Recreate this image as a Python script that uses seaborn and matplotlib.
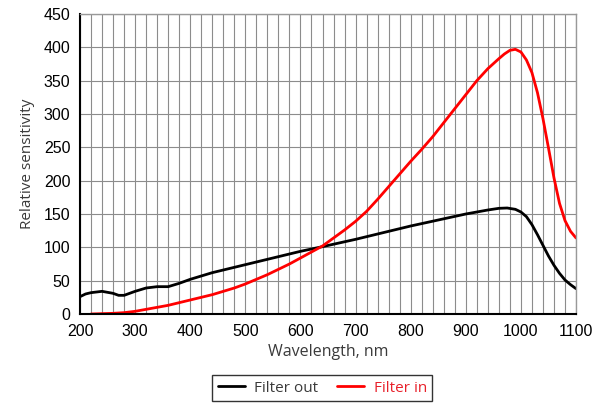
import numpy as np
import pandas as pd
import matplotlib
matplotlib.use("Agg")
import matplotlib.pyplot as plt
import seaborn as sns
from matplotlib.ticker import MultipleLocator

# Filter out (black curve)
wl_out = [200, 210, 220, 240, 260, 270, 280, 300, 320, 340, 360, 380, 400, 420,
          440, 460, 480, 500, 520, 540, 560, 580, 600, 640, 700, 750, 800, 850,
          900, 940, 960, 975, 990, 1000, 1010, 1020, 1030, 1040, 1050, 1060,
          1070, 1080, 1090, 1100]
sens_out = [26, 30, 32, 34, 31, 28, 28, 34, 39, 41, 41, 46, 52, 57,
            62, 66, 70, 74, 78, 82, 86, 90, 94, 101, 112, 122, 132, 141,
            150, 156, 158.5, 159, 157, 153, 146, 134, 119, 103, 87, 73,
            61, 51, 44, 38]

# Filter in (red curve)
wl_in = [220, 240, 260, 280, 300, 320, 340, 360, 380, 400, 420, 440, 460, 480,
         500, 520, 540, 560, 580, 600, 620, 640, 660, 680, 700, 720, 740, 760,
         780, 800, 820, 840, 860, 880, 900, 920, 940, 960, 970, 980, 990, 1000,
         1010, 1020, 1030, 1040, 1050, 1060, 1070, 1080, 1090, 1100]
sens_in = [0, 0.5, 1, 2, 4, 7, 10, 13, 17, 21, 25, 29, 34, 39,
           45, 52, 59, 67, 75, 84, 93, 102, 114, 126, 139, 154, 172, 191,
           210, 229, 247, 266, 287, 308, 329, 350, 368, 383, 390, 395.5, 397,
           393, 381, 362, 332, 293, 249, 204, 166, 140, 124, 114]

df_out = pd.DataFrame({"wl": wl_out, "sens": sens_out})
df_in = pd.DataFrame({"wl": wl_in, "sens": sens_in})

sns.set_style("white")
plt.rcParams["font.family"] = ["Liberation Sans", "DejaVu Sans"]

fig = plt.figure(figsize=(6.07, 4.08), dpi=100)
ax = fig.add_axes([0.1318, 0.2304, 0.8172, 0.7353])

sns.lineplot(data=df_out, x="wl", y="sens", color="black", linewidth=2.0,
             label="Filter out", ax=ax)
sns.lineplot(data=df_in, x="wl", y="sens", color="#ff0000", linewidth=2.0,
             label="Filter in", ax=ax)

ax.set_xlim(200, 1100)
ax.set_ylim(0, 450)
ax.xaxis.set_major_locator(MultipleLocator(100))
ax.xaxis.set_minor_locator(MultipleLocator(20))
ax.yaxis.set_major_locator(MultipleLocator(50))
ax.grid(which="both", axis="x", color="#8c8c8c", linewidth=0.8)
ax.grid(which="major", axis="y", color="#8c8c8c", linewidth=0.8)
ax.set_axisbelow(True)

for s in ["top", "right"]:
    ax.spines[s].set_color("#999999")
    ax.spines[s].set_linewidth(1.0)
for s in ["left", "bottom"]:
    ax.spines[s].set_color("black")
    ax.spines[s].set_linewidth(1.5)

ax.tick_params(axis="both", which="major", direction="out", length=4, width=1,
               color="black", labelsize=11.5, labelcolor="black", pad=3)
ax.tick_params(axis="x", which="minor", length=0)

ax.set_xlabel("Wavelength, nm", fontsize=11.5, color="#3a3a3a",
              family=["Open Sans", "DejaVu Sans"], labelpad=4)
ax.set_ylabel("Relative sensitivity", fontsize=11, color="#3a3a3a",
              family=["Open Sans", "DejaVu Sans"], labelpad=6)

ax.get_legend().remove()
leg = fig.legend(loc="center", bbox_to_anchor=(0.531, 0.049), ncol=2,
                 frameon=True, fancybox=False, edgecolor="black",
                 prop={"family": ["Open Sans", "DejaVu Sans"], "size": 11},
                 handlelength=1.8, columnspacing=1.2, handletextpad=0.6,
                 borderpad=0.35)
leg.get_frame().set_linewidth(1.0)
leg.get_texts()[0].set_color("#3a3a3a")
leg.get_texts()[1].set_color("#e8202a")

fig.savefig("out.png", dpi=100)
